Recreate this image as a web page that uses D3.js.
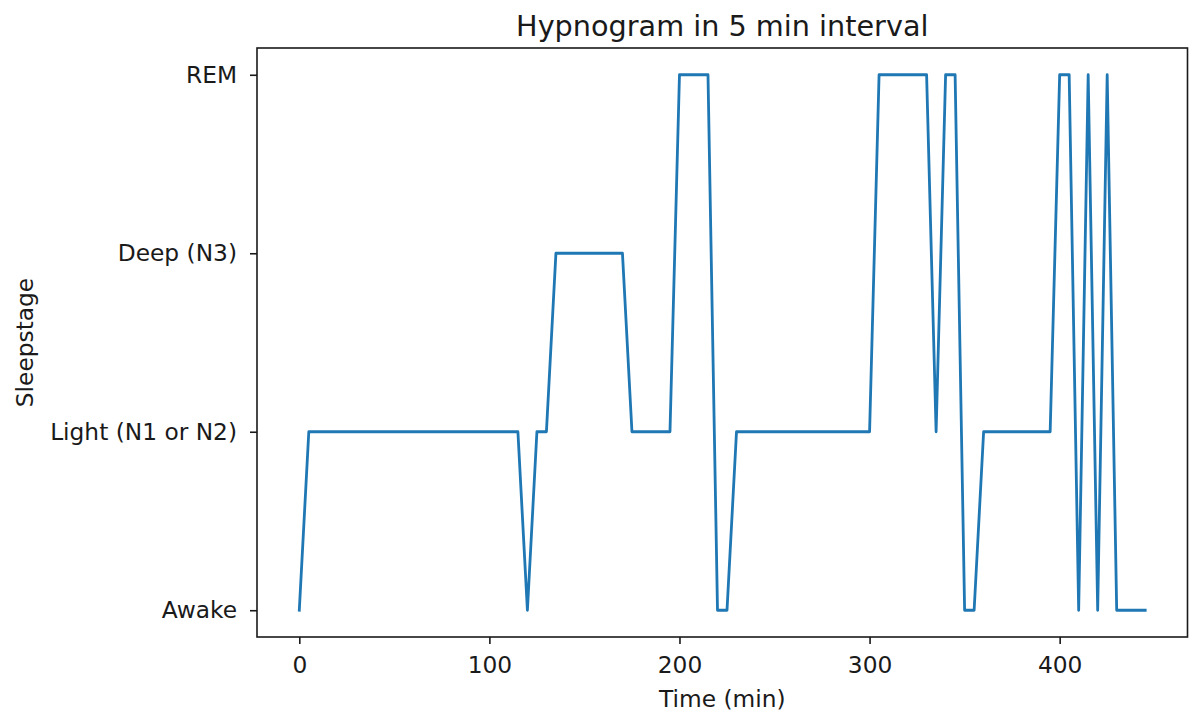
<!DOCTYPE html>
<html>
<head>
<meta charset="utf-8">
<script src="https://cdn.jsdelivr.net/npm/d3@7"></script>
<style>
  html, body { margin: 0; padding: 0; background: #fff; }
  svg { display: block; font-family: "DejaVu Sans", sans-serif; }
</style>
</head>
<body>
<svg id="chart" width="1193" height="720"></svg>
<script>
// Sleep stages sampled every 5 minutes (0 = Awake, 1 = Light, 2 = Deep, 3 = REM)
const minutes = [
  0, 5, 10, 15, 20, 25, 30, 35, 40, 45, 50, 55, 60, 65, 70, 75, 80, 85, 90, 95,
  100, 105, 110, 115, 120, 125, 130, 135, 140, 145, 150, 155, 160, 165, 170, 175,
  180, 185, 190, 195, 200, 205, 210, 215, 220, 225, 230, 235, 240, 245, 250, 255,
  260, 265, 270, 275, 280, 285, 290, 295, 300, 305, 310, 315, 320, 325, 330, 335,
  340, 345, 350, 355, 360, 365, 370, 375, 380, 385, 390, 395, 400, 405, 410, 415,
  420, 425, 430, 435, 440, 445
];
const stages = [
  0, 1, 1, 1, 1, 1, 1, 1, 1, 1, 1, 1, 1, 1, 1, 1, 1, 1, 1, 1,
  1, 1, 1, 1, 0, 1, 1, 2, 2, 2, 2, 2, 2, 2, 2, 1,
  1, 1, 1, 1, 3, 3, 3, 3, 0, 0, 1, 1, 1, 1, 1, 1,
  1, 1, 1, 1, 1, 1, 1, 1, 1, 3, 3, 3, 3, 3, 3, 1,
  3, 3, 0, 0, 1, 1, 1, 1, 1, 1, 1, 1, 3, 3, 0, 3,
  0, 3, 0, 0, 0, 0
];
const stageLabels = ["Awake", "Light (N1 or N2)", "Deep (N3)", "REM"];
const xTicks = [0, 100, 200, 300, 400];

const titleText = "Hypnogram in 5 min interval";
const xLabelText = "Time (min)";
const yLabelText = "Sleepstage";

const svg = d3.select("#chart");
const plot = { left: 257, right: 1187.5, top: 48, bottom: 637 };
const textColor = "#1a1a1a";
const labelSize = "23.3px";

// 5% padding on both axes around the data extent
function padded(extent) {
  const span = extent[1] - extent[0];
  return [extent[0] - span * 0.05, extent[1] + span * 0.05];
}

const x = d3.scaleLinear()
  .domain(padded(d3.extent(minutes)))
  .range([plot.left, plot.right]);
const y = d3.scaleLinear()
  .domain(padded([0, stageLabels.length - 1]))
  .range([plot.bottom, plot.top]);

const points = minutes.map((m, i) => [m, stages[i]]);

// Hypnogram trace
const line = d3.line().x(d => x(d[0])).y(d => y(d[1]));
svg.append("path")
  .datum(points)
  .attr("d", line)
  .attr("fill", "none")
  .attr("stroke", "#1f77b4")
  .attr("stroke-width", 2.8)
  .attr("stroke-linejoin", "round")
  .attr("stroke-linecap", "square");

// Axes
const xAxis = d3.axisBottom(x).tickValues(xTicks).tickSize(7).tickPadding(12);
const yAxis = d3.axisLeft(y)
  .tickValues(d3.range(stageLabels.length))
  .tickFormat(i => stageLabels[i])
  .tickSize(7).tickPadding(13);

const gx = svg.append("g")
  .attr("transform", `translate(0,${plot.bottom})`)
  .call(xAxis);
const gy = svg.append("g")
  .attr("transform", `translate(${plot.left},0)`)
  .call(yAxis);

[gx, gy].forEach(g => {
  g.select(".domain").remove();
  g.selectAll(".tick line").attr("stroke", textColor).attr("stroke-width", 1.6);
  g.selectAll(".tick text")
    .attr("fill", textColor)
    .style("font-size", labelSize)
    .style("font-family", "'DejaVu Sans', sans-serif");
});

// Frame around the plotting area
svg.append("rect")
  .attr("x", plot.left)
  .attr("y", plot.top)
  .attr("width", plot.right - plot.left)
  .attr("height", plot.bottom - plot.top)
  .attr("fill", "none")
  .attr("stroke", textColor)
  .attr("stroke-width", 1.6);

// Title and axis labels
svg.append("text")
  .attr("x", (plot.left + plot.right) / 2)
  .attr("y", 36)
  .attr("text-anchor", "middle")
  .attr("fill", textColor)
  .style("font-size", "28.7px")
  .text(titleText);

svg.append("text")
  .attr("x", (plot.left + plot.right) / 2)
  .attr("y", 707)
  .attr("text-anchor", "middle")
  .attr("fill", textColor)
  .style("font-size", labelSize)
  .text(xLabelText);

svg.append("text")
  .attr("transform", `translate(33,${(plot.top + plot.bottom) / 2}) rotate(-90)`)
  .attr("text-anchor", "middle")
  .attr("fill", textColor)
  .style("font-size", labelSize)
  .text(yLabelText);
</script>
</body>
</html>
